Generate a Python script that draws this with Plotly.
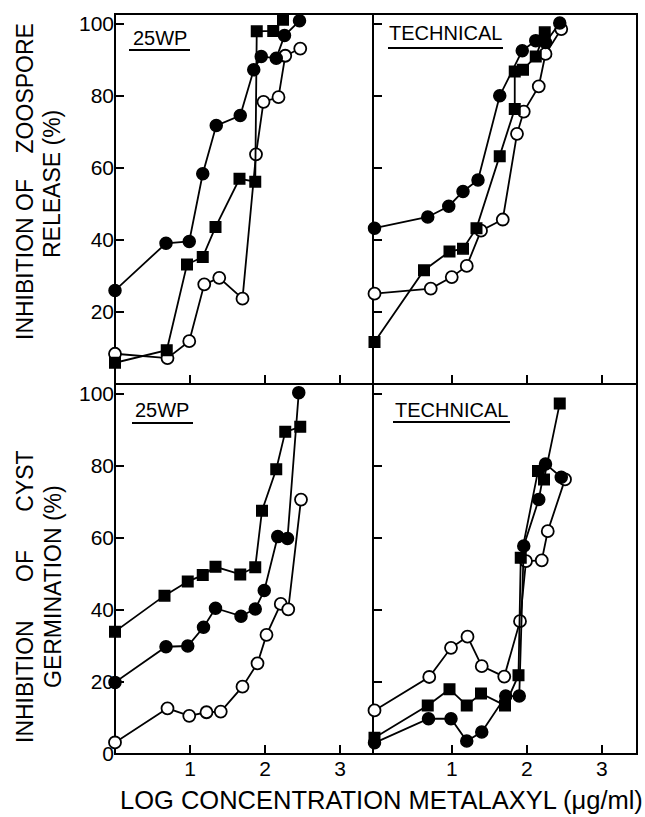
import plotly.graph_objects as go
from plotly.subplots import make_subplots

# ---------------- data (log concentration, % inhibition) ----------------
# Top-left: zoospore release, 25WP
zr_wp_fcirc_x = [0.0, 0.68, 0.99, 1.17, 1.35, 1.67, 1.85, 1.95, 2.15, 2.26, 2.46]
zr_wp_fcirc_y = [26.0, 39.1, 39.6, 58.4, 71.8, 74.6, 87.3, 91.0, 90.5, 96.8, 100.9]
zr_wp_sq_x = [0.0, 0.69, 0.96, 1.17, 1.34, 1.66, 1.87, 1.89, 2.11, 2.24]
zr_wp_sq_y = [5.9, 9.4, 33.2, 35.3, 43.6, 57.0, 56.2, 98.0, 98.1, 101.2]
zr_wp_ocirc_x = [0.0, 0.70, 0.99, 1.19, 1.39, 1.70, 1.88, 1.98, 2.18, 2.27, 2.47]
zr_wp_ocirc_y = [8.4, 7.2, 11.9, 27.7, 29.5, 23.7, 63.8, 78.4, 79.7, 91.2, 93.2]

# Top-right: zoospore release, technical
zr_tc_fcirc_x = [-0.03, 0.68, 0.96, 1.15, 1.35, 1.64, 1.94, 2.12, 2.25, 2.44]
zr_tc_fcirc_y = [43.3, 46.4, 49.4, 53.5, 56.7, 80.1, 92.6, 95.4, 94.9, 100.3]
zr_tc_sq_x = [-0.03, 0.63, 0.97, 1.15, 1.33, 1.64, 1.84, 1.84, 1.95, 2.12, 2.24]
zr_tc_sq_y = [11.7, 31.6, 36.8, 37.6, 43.3, 63.3, 76.4, 86.8, 87.3, 91.0, 97.7]
zr_tc_ocirc_x = [-0.03, 0.72, 1.00, 1.20, 1.39, 1.68, 1.87, 1.96, 2.16, 2.25, 2.46]
zr_tc_ocirc_y = [25.1, 26.5, 29.7, 32.8, 42.6, 45.7, 69.5, 75.7, 82.7, 91.7, 98.6]

# Bottom-left: cyst germination, 25WP
cg_wp_sq_x = [0.0, 0.66, 0.97, 1.17, 1.34, 1.67, 1.87, 1.96, 2.15, 2.27, 2.47]
cg_wp_sq_y = [34.0, 44.0, 47.9, 49.7, 52.0, 49.9, 51.9, 67.6, 79.1, 89.5, 90.9]
cg_wp_fcirc_x = [0.0, 0.68, 0.97, 1.18, 1.34, 1.68, 1.87, 1.99, 2.17, 2.30, 2.45]
cg_wp_fcirc_y = [19.9, 29.8, 30.0, 35.2, 40.5, 38.3, 40.3, 45.4, 60.4, 59.9, 100.4]
cg_wp_ocirc_x = [0.0, 0.70, 0.99, 1.22, 1.41, 1.70, 1.90, 2.02, 2.21, 2.31, 2.48]
cg_wp_ocirc_y = [3.2, 12.7, 10.6, 11.6, 11.8, 18.7, 25.2, 33.1, 41.7, 40.2, 70.7]

# Bottom-right: cyst germination, technical
cg_tc_sq_x = [-0.03, 0.68, 0.97, 1.20, 1.39, 1.71, 1.89, 1.92, 2.15, 2.23, 2.44]
cg_tc_sq_y = [4.5, 13.5, 18.0, 13.5, 16.8, 13.5, 21.9, 54.5, 78.6, 76.3, 97.4]
cg_tc_fcirc_x = [-0.03, 0.69, 0.99, 1.20, 1.40, 1.72, 1.90, 1.96, 2.16, 2.25, 2.46]
cg_tc_fcirc_y = [3.1, 9.8, 9.8, 3.6, 6.1, 16.1, 16.1, 57.8, 70.7, 80.6, 76.9]
cg_tc_ocirc_x = [-0.03, 0.70, 0.99, 1.21, 1.40, 1.70, 1.91, 1.99, 2.20, 2.28, 2.51]
cg_tc_ocirc_y = [12.1, 21.4, 29.5, 32.6, 24.4, 21.5, 36.9, 53.6, 53.8, 61.9, 76.3]

x_ticks = [1, 2, 3]
x_tick_labels = ["1", "2", "3"]
y_ticks = [0, 20, 40, 60, 80, 100]
y_tick_labels = ["0", "20", "40", "60", "80", "100"]
panel_labels = ["25WP", "TECHNICAL", "25WP", "TECHNICAL"]
NB = "\u00a0"
y_title_lines = ["INHIBITION" + NB * 1 + "OF" + NB * 4 + "ZOOSPORE", "RELEASE (%)",
                 "INHIBITION" + NB * 6 + "OF" + NB * 6 + "CYST", "GERMINATION (%)"]
x_title = "LOG CONCENTRATION METALAXYL (\u03bcg/ml)"

# ---------------- figure ----------------
W, H = 645, 817
ML, MR, MT, MB = 115, 8, 14, 63
PW, PH = W - ML - MR, H - MT - MB
SPLIT = 258 / PW  # left column fraction

fig = make_subplots(rows=2, cols=2, horizontal_spacing=0, vertical_spacing=0,
                    column_widths=[258, PW - 258])

FONT = "Liberation Sans, Arial, sans-serif"


def add_series(row, col, x, y, kind):
    if kind == "fcirc":
        marker = dict(symbol="circle", size=12, color="black", line=dict(color="black", width=1.5))
    elif kind == "sq":
        marker = dict(symbol="square", size=10.5, color="black", line=dict(color="black", width=1.5))
    else:
        marker = dict(symbol="circle", size=12, color="white", line=dict(color="black", width=1.8))
    fig.add_trace(go.Scatter(x=x, y=y, mode="lines+markers", marker=marker,
                             line=dict(color="black", width=1.8), showlegend=False,
                             cliponaxis=False),
                  row=row, col=col)


add_series(1, 1, zr_wp_ocirc_x, zr_wp_ocirc_y, "ocirc")
add_series(1, 1, zr_wp_sq_x, zr_wp_sq_y, "sq")
add_series(1, 1, zr_wp_fcirc_x, zr_wp_fcirc_y, "fcirc")

add_series(1, 2, zr_tc_ocirc_x, zr_tc_ocirc_y, "ocirc")
add_series(1, 2, zr_tc_sq_x, zr_tc_sq_y, "sq")
add_series(1, 2, zr_tc_fcirc_x, zr_tc_fcirc_y, "fcirc")

add_series(2, 1, cg_wp_ocirc_x, cg_wp_ocirc_y, "ocirc")
add_series(2, 1, cg_wp_fcirc_x, cg_wp_fcirc_y, "fcirc")
add_series(2, 1, cg_wp_sq_x, cg_wp_sq_y, "sq")

add_series(2, 2, cg_tc_ocirc_x, cg_tc_ocirc_y, "ocirc")
add_series(2, 2, cg_tc_sq_x, cg_tc_sq_y, "sq")
add_series(2, 2, cg_tc_fcirc_x, cg_tc_fcirc_y, "fcirc")

common_axis = dict(showline=False, showgrid=False, zeroline=False,
                   ticks="inside", ticklen=9, tickwidth=1.5, tickcolor="black",
                   tickfont=dict(family=FONT, size=21, color="black"))

for r in (1, 2):
    for c in (1, 2):
        xr = [0, 3.44] if c == 1 else [-0.05, 3.47]
        fig.update_xaxes(common_axis, range=xr, tickvals=x_ticks, ticktext=x_tick_labels,
                         showticklabels=(r == 2), row=r, col=c)
        yv = y_ticks if r == 2 else y_ticks[1:]
        yt = y_tick_labels if r == 2 else y_tick_labels[1:]
        fig.update_yaxes(common_axis, range=[0, 102.8], tickvals=yv, ticktext=yt,
                         showticklabels=(c == 1), row=r, col=c)


def px_to_paper(px, py):
    return (px - ML) / PW, (H - MB - py) / PH


annotations = []
shapes = []

# frame: outer box + interior dividers (single-width lines)
frame = dict(color="black", width=2)
shapes.append(dict(type="rect", xref="paper", yref="paper", x0=0, x1=1, y0=0, y1=1,
                   line=frame, layer="below"))
shapes.append(dict(type="line", xref="paper", yref="paper", x0=SPLIT, x1=SPLIT, y0=0, y1=1,
                   line=frame, layer="below"))
shapes.append(dict(type="line", xref="paper", yref="paper", x0=0, x1=1, y0=0.5, y1=0.5,
                   line=frame, layer="below"))

# panel labels: (center x, center y, underline x0, x1, underline y)
label_pos = [(160, 38, 129, 190, 50), (445, 33, 388, 503, 48),
             (162, 410, 132, 193, 423), (451, 410, 393, 510, 422)]
for text, (cx, cy, ux0, ux1, uy) in zip(panel_labels, label_pos):
    ax, ay = px_to_paper(cx, cy)
    annotations.append(dict(text=text, x=ax, y=ay, xref="paper", yref="paper",
                            showarrow=False, xanchor="center", yanchor="middle",
                            font=dict(family=FONT, size=20, color="black")))
    x0, y0 = px_to_paper(ux0, uy)
    x1, _ = px_to_paper(ux1, uy)
    shapes.append(dict(type="line", xref="paper", yref="paper", x0=x0, x1=x1, y0=y0, y1=y0,
                       line=dict(color="black", width=2)))

ytitle_pos = [(25, 182), (52, 184), (25, 597), (53, 587)]
for text, (cx, cy) in zip(y_title_lines, ytitle_pos):
    ax, ay = px_to_paper(cx, cy)
    annotations.append(dict(text=text, x=ax, y=ay, xref="paper", yref="paper",
                            showarrow=False, textangle=-90, xanchor="center", yanchor="middle",
                            font=dict(family=FONT, size=23, color="black")))

ax, ay = px_to_paper(381, 800)
annotations.append(dict(text=x_title, x=ax, y=ay, xref="paper", yref="paper",
                        showarrow=False, xanchor="center", yanchor="middle",
                        font=dict(family=FONT, size=25.5, color="black")))

fig.update_layout(width=W, height=H, margin=dict(l=ML, r=MR, t=MT, b=MB),
                  paper_bgcolor="white", plot_bgcolor="white",
                  annotations=annotations, shapes=shapes, showlegend=False)

fig.write_html("out.html", config={"displayModeBar": False},
               post_script="document.body.style.margin='0';document.body.style.padding='0';")
